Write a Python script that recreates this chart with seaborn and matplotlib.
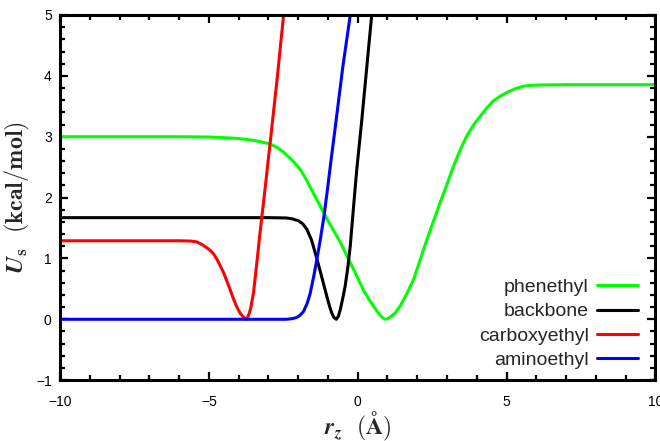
import numpy as np
import pandas as pd
import matplotlib
matplotlib.use("Agg")
import matplotlib.pyplot as plt
import seaborn as sns
from matplotlib.ticker import MultipleLocator

# values
phenethyl_x = [-10, -6, -5, -4.5, -4, -3.5, -3.2, -2.94, -2.7, -2.5, -2.3, -2.1, -1.9, -1.7, -1.5,
               -1.26, -1.0, -0.8, -0.59, -0.3, -0.03, 0.2, 0.4, 0.53, 0.65, 0.75, 0.85, 0.92,
               1.0, 1.1, 1.25, 1.43, 1.65, 1.88, 2.1, 2.33, 2.55, 2.77, 3.0, 3.22, 3.45, 3.67,
               3.9, 4.12, 4.35, 4.56, 4.8, 5.02, 5.3, 5.57, 5.85, 6.13, 7.0, 10]
phenethyl_y = [3.0, 3.0, 2.995, 2.985, 2.97, 2.94, 2.91, 2.88, 2.82, 2.75, 2.66, 2.56, 2.44, 2.27, 2.08,
               1.86, 1.62, 1.45, 1.27, 0.98, 0.71, 0.47, 0.31, 0.22, 0.13, 0.07, 0.02, 0.0,
               0.01, 0.04, 0.1, 0.22, 0.42, 0.66, 0.98, 1.32, 1.62, 1.92, 2.22, 2.52, 2.79, 3.02,
               3.2, 3.34, 3.48, 3.59, 3.67, 3.73, 3.79, 3.83, 3.845, 3.85, 3.855, 3.855]

backbone_x = [-10, -3, -2.4, -2.2, -2.0, -1.85, -1.71, -1.55, -1.37, -1.2, -1.04, -0.95, -0.87,
              -0.8, -0.72, -0.65, -0.58, -0.5, -0.42, -0.33, -0.25, -0.14, -0.03, 0.14, 0.3, 0.47]
backbone_y = [1.67, 1.67, 1.665, 1.65, 1.62, 1.57, 1.48, 1.3, 0.99, 0.68, 0.38, 0.22, 0.1,
              0.03, 0.0, 0.05, 0.17, 0.35, 0.55, 0.86, 1.21, 1.85, 2.47, 3.29, 4.12, 5.0]

carboxy_x = [-10, -6, -5.6, -5.4, -5.2, -5.0, -4.85, -4.7, -4.51, -4.35, -4.17, -4.05, -3.95,
             -3.85, -3.75, -3.68, -3.6, -3.5, -3.4, -3.28, -3.1, -2.94, -2.72, -2.49]
carboxy_y = [1.29, 1.29, 1.285, 1.27, 1.22, 1.15, 1.08, 0.96, 0.77, 0.57, 0.33, 0.19, 0.1,
             0.04, 0.0, 0.05, 0.17, 0.44, 0.88, 1.43, 2.2, 2.91, 3.89, 5.0]

amino_x = [-10, -2.4, -2.2, -2.05, -1.95, -1.82, -1.7, -1.6, -1.48, -1.37, -1.26, -1.15,
           -1.03, -0.92, -0.72, -0.5, -0.25]
amino_y = [0, 0, 0.01, 0.03, 0.06, 0.13, 0.26, 0.42, 0.7, 0.99, 1.3, 1.64,
           2.08, 2.52, 3.29, 4.15, 5.0]

names = ["phenethyl", "backbone", "carboxyethyl", "aminoethyl"]
colors = ["#00ff00", "#000000", "#ff0000", "#0000ff"]

frames = []
for name, xs, ys in zip(names,
                        [phenethyl_x, backbone_x, carboxy_x, amino_x],
                        [phenethyl_y, backbone_y, carboxy_y, amino_y]):
    frames.append(pd.DataFrame({"rz": xs, "U": ys, "group": name}))
df = pd.concat(frames, ignore_index=True)

sns.set_style("ticks")
plt.rcParams["font.family"] = ["Liberation Sans", "DejaVu Sans"]
plt.rcParams["mathtext.fontset"] = "cm"

fig = plt.figure(figsize=(6.6, 4.41), dpi=100)
ax = fig.add_axes([0.091, 0.138, 0.902, 0.828])

sns.lineplot(data=df, x="rz", y="U", hue="group", hue_order=names,
             palette=dict(zip(names, colors)), estimator=None, sort=False,
             linewidth=2.2, ax=ax, legend=False)
for ln in ax.lines:
    ln.set_solid_joinstyle("round")
    ln.set_solid_capstyle("round")

ax.set_xlim(-10, 10)
ax.set_ylim(-1, 5)
ax.xaxis.set_major_locator(MultipleLocator(5))
ax.xaxis.set_minor_locator(MultipleLocator(1))
ax.yaxis.set_major_locator(MultipleLocator(1))
ax.yaxis.set_minor_locator(MultipleLocator(0.2))
ax.tick_params(which="both", direction="in", top=True, right=True, width=1.6, labelsize=10, colors="black")
ax.tick_params(which="major", length=6)
ax.tick_params(which="minor", length=3.5)
ax.tick_params(axis="x", which="major", pad=11)
ax.tick_params(axis="y", which="major", pad=6)
for s in ax.spines.values():
    s.set_linewidth(2.2)
    s.set_color("black")

ax.set_xlabel(r"$\mathbfit{r}_{\mathbfit{z}}\ \ \mathbf{(\AA)}$", fontsize=17, labelpad=0)
ax.set_ylabel(r"$\mathbfit{U}_{\mathbf{s}}\ \ \mathbf{(kcal/mol)}$", fontsize=17.5, labelpad=3)

handles = [plt.Line2D([], [], color=c, lw=2.2) for c in colors]
ax.legend(handles, names, loc="lower right", bbox_to_anchor=(0.97, 0.03), frameon=False,
          markerfirst=False, fontsize=14, handlelength=2.1, handletextpad=0.4,
          labelspacing=0.35, borderaxespad=0, borderpad=0)

fig.savefig("out.png", dpi=100)
